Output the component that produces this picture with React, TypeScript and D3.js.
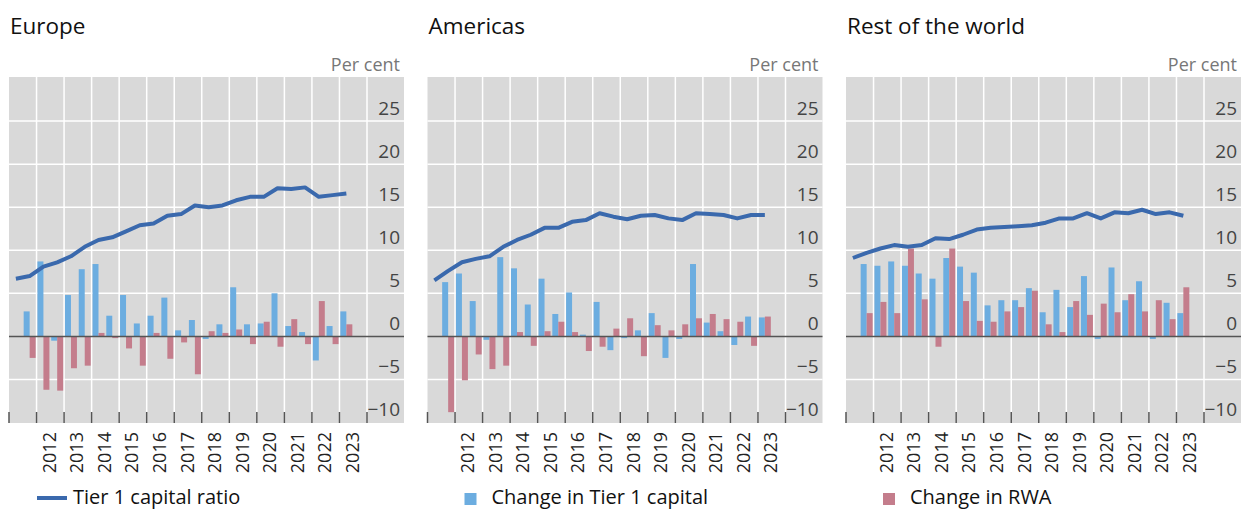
import * as d3 from "d3";

// half-year periods, 2011 H1 to 2023 H2
const years = ["2011", "2012", "2013", "2014", "2015", "2016", "2017", "2018", "2019", "2020", "2021", "2022", "2023"];
const tickYears = years.slice(1);
const halves = years.flatMap((y) => [`${y} H1`, `${y} H2`]);
const lineSlots = halves.slice(0, 25);
const barSlots = halves.slice(1, 25);
const yTicks = [25, 20, 15, 10, 5, 0, -5, -10];

// Europe
const europeRatio = [6.7, 7.0, 8.1, 8.6, 9.3, 10.4, 11.2, 11.5, 12.2, 12.9, 13.1, 14.0, 14.2, 15.2, 15.0, 15.2, 15.8, 16.2, 16.2, 17.2, 17.1, 17.3, 16.2, 16.4, 16.6];
const europeTier1 = [2.9, 8.7, -0.5, 4.8, 7.8, 8.4, 2.4, 4.8, 1.5, 2.4, 4.5, 0.7, 1.9, -0.3, 1.4, 5.7, 1.4, 1.5, 5.0, 1.2, 0.5, -2.8, 1.2, 2.9];
const europeRwa = [-2.5, -6.2, -6.3, -3.7, -3.4, 0.4, -0.2, -1.4, -3.4, 0.4, -2.6, -0.7, -4.4, 0.6, 0.4, 0.8, -0.9, 1.7, -1.2, 2.0, -0.9, 4.1, -0.9, 1.4];

// Americas
const americasRatio = [6.5, 7.6, 8.6, 9.0, 9.3, 10.4, 11.2, 11.8, 12.6, 12.6, 13.3, 13.5, 14.3, 13.9, 13.6, 14.0, 14.1, 13.7, 13.5, 14.3, 14.2, 14.1, 13.7, 14.1, 14.1];
const americasTier1 = [6.3, 7.3, 4.1, -0.4, 9.2, 7.9, 3.7, 6.7, 2.6, 5.1, 0.2, 4.0, -1.6, -0.2, 0.7, 2.7, -2.5, -0.3, 8.4, 1.6, 0.6, -1.0, 2.3, 2.2];
const americasRwa = [-8.8, -5.1, -2.1, -3.8, -3.4, 0.5, -1.1, 0.6, 1.7, 0.5, -1.7, -1.2, 0.9, 2.1, -2.3, 1.3, 0.7, 1.4, 2.1, 2.6, 2.0, 1.7, -1.1, 2.3];

// Rest of the world
const rowRatio = [9.1, 9.7, 10.2, 10.6, 10.4, 10.6, 11.4, 11.3, 11.8, 12.4, 12.6, 12.7, 12.8, 12.9, 13.2, 13.7, 13.7, 14.3, 13.7, 14.4, 14.3, 14.7, 14.2, 14.4, 14.0];
const rowTier1 = [8.4, 8.2, 8.7, 8.2, 7.3, 6.7, 9.1, 8.1, 7.4, 3.6, 4.2, 4.2, 5.6, 2.8, 5.4, 3.4, 7.0, -0.3, 8.0, 4.2, 6.4, -0.3, 3.9, 2.7];
const rowRwa = [2.7, 4.0, 2.7, 10.2, 4.3, -1.2, 10.2, 4.1, 1.8, 1.7, 2.9, 3.4, 5.3, 1.4, 0.5, 4.1, 2.5, 3.8, 2.8, 4.9, 2.9, 4.2, 2.0, 5.7];

const panels = [
  { title: "Europe", ratio: europeRatio, tier1: europeTier1, rwa: europeRwa, legend: "line", legendText: "Tier 1 capital ratio" },
  { title: "Americas", ratio: americasRatio, tier1: americasTier1, rwa: americasRwa, legend: "tier1", legendText: "Change in Tier 1 capital" },
  { title: "Rest of the world", ratio: rowRatio, tier1: rowTier1, rwa: rowRwa, legend: "rwa", legendText: "Change in RWA" },
];

const width = 1242;
const height = 509;
const panelLeft = [9, 427.5, 846];
const plotW = 395;
const xSpan = 358;
const plotTop = 77;
const plotBottom = 423;
const font = "'Open Sans', sans-serif";
const lineColor = "#3a69ad";
const tier1Color = "#6cade0";
const rwaColor = "#c47d8c";

const yScale = d3.scaleLinear().domain([-10, 30]).range([422.5, 78]);

type PanelProps = {
  x0: number;
  title: string;
  ratio: number[];
  tier1: number[];
  rwa: number[];
  legend: string;
  legendText: string;
};

const Panel = ({ x0, title, ratio, tier1, rwa, legend, legendText }: PanelProps) => {
  const xYear = d3.scaleBand<string>().domain(years).range([x0, x0 + xSpan]);
  const xSlot = d3.scaleBand<string>().domain(halves).range([x0, x0 + xSpan]);
  const xInner = d3
    .scaleBand<string>()
    .domain(["tier1", "rwa"])
    .range([0, xSlot.bandwidth()])
    .paddingOuter(0.15);
  const bounds = years.map((y) => xYear(y) as number).concat([x0 + xSpan]);

  const line = d3
    .line<number>()
    .x((_, i) => (xSlot(lineSlots[i]) as number) + xSlot.bandwidth() / 2)
    .y((d) => yScale(d));

  const bar = (v: number) => ({ y: yScale(Math.max(0, v)), h: Math.abs(yScale(v) - yScale(0)) });

  return (
    <g>
      <text x={x0 + 1} y={34} fontSize={22.5} fill="#111" fontFamily={font}>
        {title}
      </text>
      <text x={x0 + 391} y={71} fontSize={18} fill="#777" textAnchor="end" fontFamily={font}>
        Per cent
      </text>
      <rect x={x0} y={plotTop} width={plotW} height={plotBottom - plotTop} fill="#d9d9d9" />
      {yTicks
        .filter((t) => t !== 0 && t !== -10)
        .map((t) => (
          <line key={t} x1={x0} x2={x0 + plotW} y1={yScale(t)} y2={yScale(t)} stroke="#fff" strokeWidth={1.5} />
        ))}
      {bounds.slice(1).map((bx, i) => (
        <line key={i} x1={bx} x2={bx} y1={plotTop} y2={plotBottom} stroke="#fff" strokeWidth={1.5} />
      ))}
      {barSlots.map((s, i) => {
        const sx = xSlot(s) as number;
        const a = bar(tier1[i]);
        const b = bar(rwa[i]);
        return (
          <g key={s}>
            <rect x={sx + (xInner("tier1") as number)} y={a.y} width={xInner.bandwidth()} height={a.h} fill={tier1Color} />
            <rect x={sx + (xInner("rwa") as number)} y={b.y} width={xInner.bandwidth()} height={b.h} fill={rwaColor} />
          </g>
        );
      })}
      <line x1={x0} x2={x0 + plotW} y1={yScale(0)} y2={yScale(0)} stroke="#555" strokeWidth={1.5} />
      <path d={line(ratio) ?? ""} fill="none" stroke={lineColor} strokeWidth={4} strokeLinejoin="round" />
      {bounds.map((bx, i) => (
        <line key={i} x1={bx} x2={bx} y1={412} y2={plotBottom} stroke="#555" strokeWidth={1.5} />
      ))}
      {yTicks.map((t) => (
        <text key={t} x={x0 + 391} y={yScale(t) - 6.5} fontSize={19} fill="#444" textAnchor="end" fontFamily={font}>
          {t < 0 ? `\u2212${Math.abs(t)}` : t}
        </text>
      ))}
      {tickYears.map((y) => {
        const cx = (xYear(y) as number) + xYear.bandwidth() / 2;
        return (
          <text
            key={y}
            transform={`translate(${cx + 5.5},432) rotate(-90)`}
            fontSize={18}
            fill="#222"
            textAnchor="end"
            fontFamily={font}
          >
            {y}
          </text>
        );
      })}
      {legend === "line" ? (
        <line x1={x0 + 28} x2={x0 + 58} y1={498} y2={498} stroke={lineColor} strokeWidth={4} />
      ) : (
        <rect x={x0 + 37} y={493} width={12} height={12} fill={legend === "tier1" ? tier1Color : rwaColor} />
      )}
      <text x={x0 + 64} y={504} fontSize={20} fill="#111" fontFamily={font}>
        {legendText}
      </text>
    </g>
  );
};

const App = () => (
  <svg
    width={width}
    height={height}
    style={{ position: "absolute", left: 0, top: 0, background: "#fff" }}
  >
    {panels.map((p, k) => (
      <Panel key={p.title} x0={panelLeft[k]} {...p} />
    ))}
  </svg>
);

export default App;
